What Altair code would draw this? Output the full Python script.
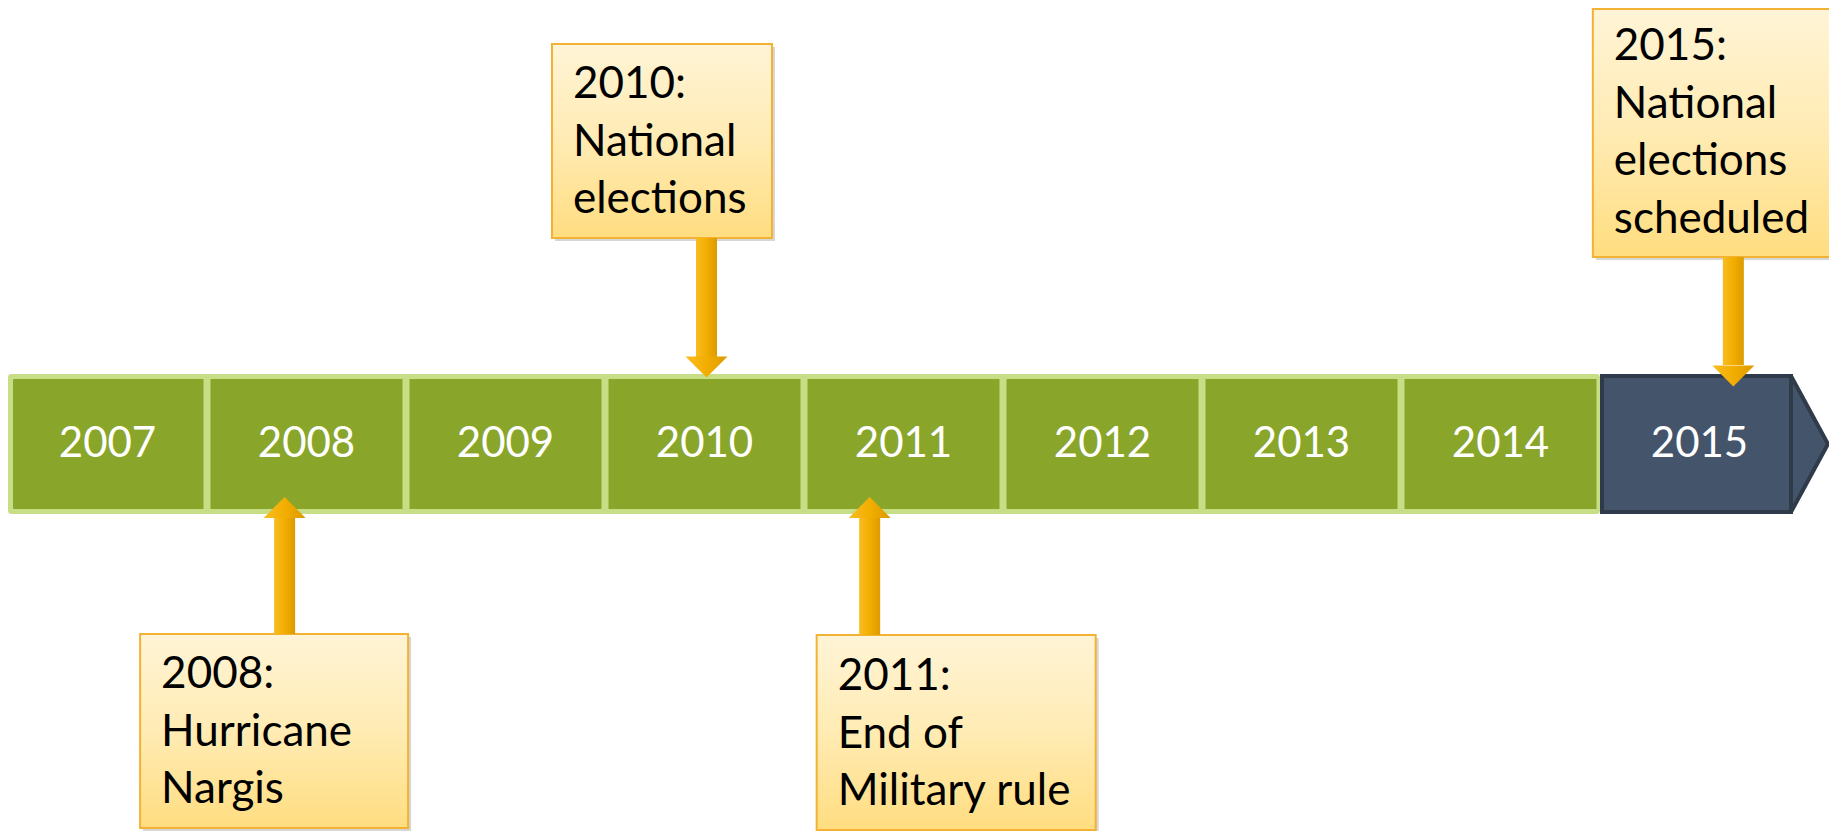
import altair as alt
import pandas as pd

# ---------------- data ----------------
years = [2007, 2008, 2009, 2010, 2011, 2012, 2013, 2014, 2015]
current_year = 2015
event_years = [2008, 2010, 2011, 2015]
event_pos = [2007.89, 2010.01, 2010.83, 2015.17]   # where each arrow meets the timeline
event_side = ["below", "above", "below", "above"]
event_lines = [
    ["2008:", "Hurricane", "Nargis"],
    ["2010:", "National", "elections"],
    ["2011:", "End of", "Military rule"],
    ["2015:", "National", "elections", "scheduled"],
]

# ---------------- layout (pixels) ----------------
PX = 199.0                      # pixels per year cell
W, H = 1821, 823
X0 = 2006.5
XMAX = X0 + W / PX
Y_TOP, Y_BOT = 436, -387
BAR = 70
CELL_END = X0 + 1783 / PX       # end of the last (dark) cell, before the chevron

box_left = [-144.5, -154.5, -53, -140.5]
box_right = [123.5, 65.5, 226, 115]
box_near = [-190, 206, -191, 187]
box_far = [-384, 400, -386, 435]
first_base = [-244, 346, -246, 384]
head_base = [-74, 87, -74, 79]
head_tip = [-53, 67, -53, 57]
LINE_H = 57.5

GREEN = "#8AA62A"
LIGHT_GREEN = "#C8DE86"
DARK = "#44546A"
DARK_EDGE = "#2F3B4A"
FONT = "Lato"

xs = alt.Scale(domain=[X0, XMAX], nice=False, zero=False)
ys = alt.Scale(domain=[Y_BOT, Y_TOP], nice=False, zero=False)


def X(f):
    return alt.X(f, type="quantitative", scale=xs, axis=None)


def X2(f):
    return alt.X2(f)


def Y(f):
    return alt.Y(f, type="quantitative", scale=ys, axis=None)


def Y2(f):
    return alt.Y2(f)


# ---------------- tables ----------------
green_years = [y for y in years if y != current_year]
band = pd.DataFrame({"x": [X0], "x2": [current_year - 0.5], "y": [BAR], "y2": [-BAR]})
g = 3.5 / PX
cells = pd.DataFrame({
    "year": green_years,
    "x": [yy - 0.5 + (5 / PX if i == 0 else g) for i, yy in enumerate(green_years)],
    "x2": [yy + 0.5 - g for yy in green_years],
    "y": [BAR - 5] * len(green_years),
    "y2": [-(BAR - 5)] * len(green_years),
})
dark = pd.DataFrame({"x": [current_year - 0.5 + 2 / PX], "x2": [CELL_END],
                     "y": [BAR - 2], "y2": [-(BAR - 2)]})
chev = pd.DataFrame({"x": [CELL_END, XMAX - 1 / PX], "y": [BAR - 2, 0], "y2": [-(BAR - 2), 0]})
labels = pd.DataFrame({"year": years, "label": [str(y) for y in years], "y": [0] * len(years)})

boxes = pd.DataFrame({
    "ev": event_years,
    "x": [p + l / PX for p, l in zip(event_pos, box_left)],
    "x2": [p + r / PX for p, r in zip(event_pos, box_right)],
    "y": box_far, "y2": box_near,
})
shadow = boxes.copy()
shadow["x"] = shadow["x"] + 3 / PX
shadow["x2"] = shadow["x2"] + 3 / PX
shadow["y"] = shadow["y"] - 3
shadow["y2"] = shadow["y2"] - 3

shafts = pd.DataFrame({
    "ev": event_years,
    "x": [p - 10.5 / PX for p in event_pos],
    "x2": [p + 10.5 / PX for p in event_pos],
    "y": box_near, "y2": head_base,
})
heads = pd.DataFrame({
    "ev": event_years, "side": event_side, "x": event_pos,
    "y": [(b + t) / 2 for b, t in zip(head_base, head_tip)],
})

rows = []
for i, lines in enumerate(event_lines):
    for j, t in enumerate(lines):
        rows.append({"ev": event_years[i], "text": t,
                     "x": event_pos[i] + (box_left[i] + 21) / PX,
                     "y": first_base[i] - j * LINE_H})
texts = pd.DataFrame(rows)

# ---------------- marks ----------------
box_fill = {"gradient": "linear", "x1": 0, "y1": 0, "x2": 0, "y2": 1,
            "stops": [{"offset": 0, "color": "#FFF4D6"}, {"offset": 0.5, "color": "#FFEBB3"},
                      {"offset": 1, "color": "#FFDD80"}]}
arrow_fill = {"gradient": "linear", "x1": 0, "y1": 0, "x2": 1, "y2": 0,
              "stops": [{"offset": 0, "color": "#F9BC22"}, {"offset": 0.5, "color": "#F2AE00"},
                        {"offset": 1, "color": "#DD9A00"}]}

band_l = alt.Chart(band).mark_rect(fill=LIGHT_GREEN, cornerRadius=3).encode(
    x=X("x"), x2=X2("x2"), y=Y("y"), y2=Y2("y2"))
cells_l = alt.Chart(cells).mark_rect(fill=GREEN).encode(
    x=X("x"), x2=X2("x2"), y=Y("y"), y2=Y2("y2"))
dark_l = alt.Chart(dark).mark_rect(fill=DARK, stroke=DARK_EDGE, strokeWidth=4).encode(
    x=X("x"), x2=X2("x2"), y=Y("y"), y2=Y2("y2"))
chev_l = alt.Chart(chev).mark_area(fill=DARK, stroke=DARK_EDGE, strokeWidth=4, orient="vertical").encode(
    x=X("x"), y=Y("y"), y2=Y2("y2"))
labels_l = alt.Chart(labels).mark_text(color="white", font=FONT, fontSize=42, baseline="middle",
                                        align="center").encode(
    x=X("year"), y=Y("y"), text="label:N")

shadow_l = alt.Chart(shadow).mark_rect(fill="#000000", opacity=0.16).encode(
    x=X("x"), x2=X2("x2"), y=Y("y"), y2=Y2("y2"))
boxes_l = alt.Chart(boxes).mark_rect(fill=box_fill, stroke="#F2B233", strokeWidth=2).encode(
    x=X("x"), x2=X2("x2"), y=Y("y"), y2=Y2("y2"))
shafts_l = alt.Chart(shafts).mark_rect(fill=arrow_fill).encode(
    x=X("x"), x2=X2("x2"), y=Y("y"), y2=Y2("y2"))
DOWN = "M-1,-0.5L1,-0.5L0,0.5Z"
UP = "M-1,0.5L1,0.5L0,-0.5Z"
head_down = alt.Chart(heads).transform_filter(alt.datum.side == "above").mark_point(
    shape=DOWN, size=1764, filled=True, fill=arrow_fill, opacity=1, strokeWidth=0).encode(
    x=X("x"), y=Y("y"))
head_up = alt.Chart(heads).transform_filter(alt.datum.side == "below").mark_point(
    shape=UP, size=1764, filled=True, fill=arrow_fill, opacity=1, strokeWidth=0).encode(
    x=X("x"), y=Y("y"))
texts_l = alt.Chart(texts).mark_text(color="black", font=FONT, fontSize=44, align="left",
                                      baseline="alphabetic").encode(
    x=X("x"), y=Y("y"), text="text:N")

chart = alt.layer(
    band_l, cells_l, dark_l, chev_l, labels_l,
    shadow_l, boxes_l, shafts_l, head_down, head_up, texts_l,
).properties(
    width=W, height=H, padding=0,
    autosize=alt.AutoSizeParams(type="none"),
    background="white",
).configure_view(stroke=None)

chart.save("out.html", embed_options={"renderer": "svg", "actions": False})
